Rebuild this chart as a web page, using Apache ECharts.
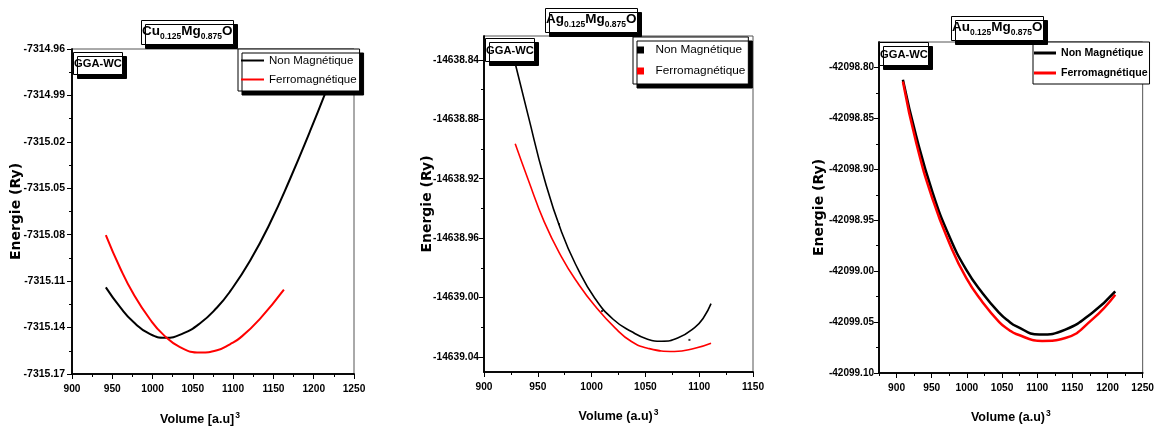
<!DOCTYPE html>
<html><head><meta charset="utf-8">
<script src="https://cdn.jsdelivr.net/npm/echarts@6/dist/echarts.min.js"></script>
<style>html,body{margin:0;padding:0;background:#fff}#c{width:1157px;height:432px}</style>
</head><body><div id="c"></div>
<script>
// ---------- data ----------
const seriesNames = ['Non Magnétique', 'Ferromagnétique'];

// Cu0.125Mg0.875O
const cuVolNM = [942, 960, 976, 997, 1016, 1038, 1059, 1080, 1096, 1121, 1146, 1171, 1195, 1214, 1232];
const cuEnNM  = [-7315.114, -7315.127, -7315.1363, -7315.1443, -7315.1466, -7315.1437, -7315.1372, -7315.127, -7315.1168, -7315.0968, -7315.0723, -7315.0435, -7315.0137, -7314.989, -7314.9643];
const cuVolFM = [942, 960, 976, 997, 1013, 1034, 1059, 1080, 1096, 1109, 1133, 1163];
const cuEnFM  = [-7315.0802, -7315.1018, -7315.118, -7315.1348, -7315.1444, -7315.1526, -7315.1561, -7315.1547, -7315.1508, -7315.1465, -7315.1345, -7315.1155];
const cuXMajor = [900, 950, 1000, 1050, 1100, 1150, 1200, 1250];
const cuXMinor = [925, 975, 1025, 1075, 1125, 1175, 1225];
const cuYMajor = [-7315.17, -7315.14, -7315.11, -7315.08, -7315.05, -7315.02, -7314.99, -7314.96];
const cuYMinor = [-7315.155, -7315.125, -7315.095, -7315.065, -7315.035, -7315.005, -7314.975];

// Ag0.125Mg0.875O
const agVolNM = [928.5, 941, 956, 972, 987, 1003, 1020, 1037, 1052, 1065, 1080, 1096, 1104, 1111];
const agEnNM  = [-14638.841, -14638.8774, -14638.9199, -14638.9557, -14638.9803, -14639.0004, -14639.0145, -14639.0228, -14639.0279, -14639.0293, -14639.0272, -14639.020, -14639.0135, -14639.004];
const agVolFM = [929, 941, 956, 972, 987, 1003, 1022, 1037, 1052, 1077, 1096, 1111];
const agEnFM  = [-14638.8965, -14638.9205, -14638.949, -14638.9725, -14638.990, -14639.0055, -14639.0205, -14639.0295, -14639.034, -14639.0362, -14639.034, -14639.0306];
const agDotVol = [969.7, 1009.7, 1090.9];
const agDotEn  = [-14638.9505, -14639.009, -14639.0284];
const agXMajor = [900, 950, 1000, 1050, 1100, 1150];
const agXMinor = [925, 975, 1025, 1075, 1125];
const agYMajor = [-14639.04, -14639.00, -14638.96, -14638.92, -14638.88, -14638.84];
const agYMinor = [-14639.02, -14638.98, -14638.94, -14638.90, -14638.86];

// Au0.125Mg0.875O
const auVolNM = [909, 928, 951.5, 975, 999, 1022, 1046, 1060, 1070, 1103, 1140, 1178, 1211];
const auEnNM  = [-42098.812, -42098.8677, -42098.9233, -42098.9658, -42098.9985, -42099.0214, -42099.041, -42099.0495, -42099.054, -42099.0623, -42099.0574, -42099.041, -42099.0198];
const auVolFM = [909, 928, 951.5, 975, 999, 1022, 1046, 1060, 1070, 1107, 1140, 1178, 1211];
const auEnFM  = [-42098.8137, -42098.8742, -42098.9298, -42098.9723, -42099.0067, -42099.0302, -42099.050, -42099.0577, -42099.0617, -42099.0685, -42099.0656, -42099.0476, -42099.0231];
const auXMajor = [900, 950, 1000, 1050, 1100, 1150, 1200, 1250];
const auXMinor = [875, 925, 975, 1025, 1075, 1125, 1175, 1225];
const auYMajor = [-42099.10, -42099.05, -42099.00, -42098.95, -42098.90, -42098.85, -42098.80];
const auYMinor = [-42099.075, -42099.025, -42098.975, -42098.925, -42098.875, -42098.825];

// ---------- styling / layout ----------
const SANS = "'Liberation Sans',Arial,sans-serif";
const WIDE = "'DejaVu Sans','Liberation Sans',Arial,sans-serif";
const pairs = (xs, ys) => xs.map((x, i) => [x, ys[i]]);

const grids = [
  {left: 72, top: 49, width: 282, height: 325},
  {left: 484, top: 36, width: 269, height: 336},
  {left: 879, top: 42, width: 265, height: 331}
].map(g => Object.assign(g, {show: true, borderColor: '#555', borderWidth: 1, backgroundColor: 'transparent'}));

const panels = [
  {min: [900, -7315.17], max: [1250, -7314.96], xMaj: cuXMajor, xMin: cuXMinor, yMaj: cuYMajor, yMin: cuYMinor,
   xName: '{v|Volume [a.u]}{p|3}', xGap: 37, xPad: [0, 26, 0, 0], yGap: 49, yMargin: 7, yFont: 10.5},
  {min: [900, -14639.05], max: [1150, -14638.824], xMaj: agXMajor, xMin: agXMinor, yMaj: agYMajor, yMin: agYMinor,
   xName: '{v|Volume (a.u)}{p|3}', xGap: 36, xPad: [0, 0, 0, 0], yGap: 50, yMargin: 5, yFont: 10.2},
  {min: [875, -42099.10], max: [1250, -42098.775], xMaj: auXMajor, xMin: auXMinor, yMaj: auYMajor, yMin: auYMinor,
   xName: '{v|Volume (a.u)}{p|3}', xGap: 36, xPad: [0, 0, 0, 0], yGap: 53, yMargin: 5, yFont: 10}
];

const xAxis = [], yAxis = [];
panels.forEach((p, g) => {
  xAxis.push({
    type: 'value', gridIndex: g, min: p.min[0], max: p.max[0], position: 'bottom',
    axisLine: {show: true, onZero: false, lineStyle: {color: '#000', width: 1.5}},
    axisTick: {show: true, length: 5, customValues: p.xMaj, lineStyle: {color: '#000', width: 1}},
    axisLabel: {customValues: p.xMaj, margin: 10, formatter: v => String(Math.round(v)),
      fontFamily: SANS, fontWeight: 'bold', fontSize: 10.2, color: '#000'},
    splitLine: {show: false},
    name: p.xName, nameLocation: 'middle', nameGap: p.xGap, nameMoveOverlap: false,
    nameTextStyle: {padding: p.xPad, rich: {
      v: {fontFamily: SANS, fontWeight: 'bold', fontSize: 12.5, color: '#000', lineHeight: 17},
      p: {fontFamily: SANS, fontWeight: 'bold', fontSize: 8.5, color: '#000', lineHeight: 17, verticalAlign: 'top', padding: [0, 0, 7, 1]}
    }}
  });
  yAxis.push({
    type: 'value', gridIndex: g, min: p.min[1], max: p.max[1], position: 'left',
    axisLine: {show: true, onZero: false, lineStyle: {color: '#000', width: 1.5}},
    axisTick: {show: true, length: 5, customValues: p.yMaj, lineStyle: {color: '#000', width: 1}},
    axisLabel: {customValues: p.yMaj, margin: p.yMargin, formatter: v => v.toFixed(2),
      fontFamily: SANS, fontWeight: 'bold', fontSize: p.yFont, color: '#000'},
    splitLine: {show: false},
    name: 'Energie (Ry)', nameLocation: 'middle', nameGap: p.yGap, nameMoveOverlap: false,
    nameTextStyle: {fontFamily: WIDE, fontWeight: 'bold', fontSize: 14, color: '#000'}
  });
});
panels.forEach((p, g) => {
  xAxis.push({
    type: 'value', gridIndex: g, min: p.min[0], max: p.max[0], position: 'bottom',
    axisLine: {show: true, onZero: false, lineStyle: {color: '#000', width: 1.5}},
    axisTick: {show: true, length: 3, customValues: p.xMin, lineStyle: {color: '#000', width: 1}},
    axisLabel: {show: false}, splitLine: {show: false}
  });
  yAxis.push({
    type: 'value', gridIndex: g, min: p.min[1], max: p.max[1], position: 'left',
    axisLine: {show: true, onZero: false, lineStyle: {color: '#000', width: 1.5}},
    axisTick: {show: true, length: 3, customValues: p.yMin, lineStyle: {color: '#000', width: 1}},
    axisLabel: {show: false}, splitLine: {show: false}
  });
});

function line(name, g, data, color, width) {
  return {type: 'line', name, xAxisIndex: g, yAxisIndex: g, data, smooth: 0.5, showSymbol: false, symbol: 'none',
    color, lineStyle: {color, width}, itemStyle: {color}, clip: true, z: 3, animation: false};
}
const series = [
  line(seriesNames[0], 0, pairs(cuVolNM, cuEnNM), '#000', 2),
  line(seriesNames[1], 0, pairs(cuVolFM, cuEnFM), '#f00', 2),
  line(seriesNames[0], 1, pairs(agVolNM, agEnNM), '#000', 1.6),
  line(seriesNames[1], 1, pairs(agVolFM, agEnFM), '#f00', 1.6),
  {type: 'scatter', name: 'points', xAxisIndex: 1, yAxisIndex: 1, data: pairs(agDotVol, agDotEn),
   symbol: 'rect', symbolSize: 2, itemStyle: {color: '#000'}, animation: false},
  line(seriesNames[0], 2, pairs(auVolNM, auEnNM), '#000', 2.5),
  line(seriesNames[1], 2, pairs(auVolFM, auEnFM), '#f00', 2.5)
];

const boxBase = {backgroundColor: '#fff', borderColor: '#000', borderWidth: 1, shadowColor: '#000', shadowBlur: 0, shadowOffsetX: 4, shadowOffsetY: 4};
const formulaRich = {
  m: {fontFamily: SANS, fontWeight: 'bold', fontSize: 13.5, color: '#000', lineHeight: 20},
  s: {fontFamily: SANS, fontWeight: 'bold', fontSize: 8.5, color: '#000', lineHeight: 9, verticalAlign: 'bottom'}
};
const formula = (el) => `{m|${el}}{s|0.125}{m|Mg}{s|0.875}{m|O}`;
const ggaStyle = {fontFamily: SANS, fontWeight: 'bold', fontSize: 11.2, color: '#000', lineHeight: 15};
const title = [
  Object.assign({text: formula('Cu'), left: 141, top: 17, padding: [4, 1, 4, 1], textStyle: {rich: formulaRich}}, boxBase),
  Object.assign({text: formula('Ag'), left: 545, top: 5, padding: [4, 1, 4, 1], textStyle: {rich: formulaRich}}, boxBase),
  Object.assign({text: formula('Au'), left: 951, top: 13, padding: [4, 1, 4, 1], textStyle: {rich: formulaRich}}, boxBase),
  Object.assign({text: 'GGA-WC', left: 73, top: 52, padding: [4, 1, 4, 1], textStyle: ggaStyle}, boxBase),
  Object.assign({text: 'GGA-WC', left: 485, top: 38, padding: [5, 1, 4, 1], textStyle: ggaStyle}, boxBase),
  Object.assign({text: 'GGA-WC', left: 879, top: 42, padding: [5, 1, 4, 1], textStyle: ggaStyle}, boxBase)
];

const legend = [
  Object.assign({data: seriesNames, orient: 'vertical', left: 238, top: 49, padding: [4, 3, 4, 3], itemGap: 4,
    icon: 'rect', itemWidth: 23, itemHeight: 2, selectedMode: false,
    textStyle: {fontFamily: SANS, fontSize: 11.5, color: '#000', lineHeight: 15}}, boxBase),
  Object.assign({data: seriesNames, orient: 'vertical', left: 633, top: 37, padding: [5, 3, 5, 4], itemGap: 5,
    icon: 'path://M0,0h1v1h-1z', itemWidth: 20, itemHeight: 7, selectedMode: false,
    textStyle: {fontFamily: SANS, fontSize: 11.8, color: '#000', lineHeight: 16}}, boxBase),
  {data: seriesNames, orient: 'vertical', left: 1033, top: 42, padding: [3, 2, 3, 1], itemGap: 4,
    icon: 'rect', itemWidth: 22, itemHeight: 3, selectedMode: false,
    backgroundColor: '#fff', borderColor: '#000', borderWidth: 1,
    textStyle: {fontFamily: SANS, fontWeight: 'bold', fontSize: 10.6, color: '#000', lineHeight: 16}}
];

const chart = echarts.init(document.getElementById('c'), null, {renderer: 'canvas'});
chart.setOption({animation: false, backgroundColor: '#fff', grid: grids, xAxis, yAxis, series, title, legend});
</script></body></html>
